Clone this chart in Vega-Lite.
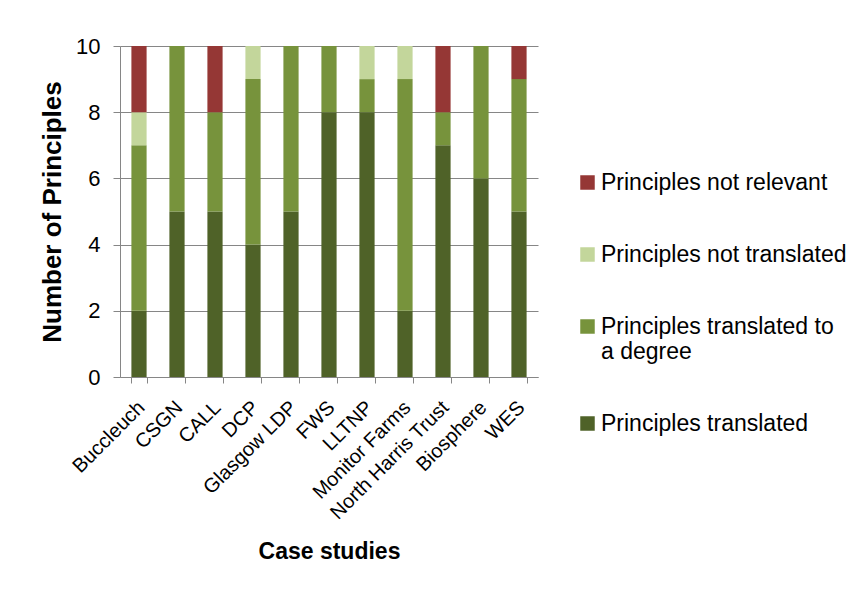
{
  "$schema": "https://vega.github.io/schema/vega-lite/v6.json",
  "width": 418,
  "height": 331,
  "autosize": {"type": "none"},
  "padding": {"left": 120, "top": 46, "right": 321, "bottom": 217},
  "background": "white",
  "config": {
    "font": "Liberation Sans",
    "view": {"stroke": null}
  },
  "data": {
    "values": [
      {"case": "Buccleuch", "category": "Principles translated", "o": 1, "value": 2},
      {"case": "Buccleuch", "category": "Principles translated to a degree", "o": 2, "value": 5},
      {"case": "Buccleuch", "category": "Principles not translated", "o": 3, "value": 1},
      {"case": "Buccleuch", "category": "Principles not relevant", "o": 4, "value": 2},
      {"case": "CSGN", "category": "Principles translated", "o": 1, "value": 5},
      {"case": "CSGN", "category": "Principles translated to a degree", "o": 2, "value": 5},
      {"case": "CALL", "category": "Principles translated", "o": 1, "value": 5},
      {"case": "CALL", "category": "Principles translated to a degree", "o": 2, "value": 3},
      {"case": "CALL", "category": "Principles not relevant", "o": 4, "value": 2},
      {"case": "DCP", "category": "Principles translated", "o": 1, "value": 4},
      {"case": "DCP", "category": "Principles translated to a degree", "o": 2, "value": 5},
      {"case": "DCP", "category": "Principles not translated", "o": 3, "value": 1},
      {"case": "Glasgow LDP", "category": "Principles translated", "o": 1, "value": 5},
      {"case": "Glasgow LDP", "category": "Principles translated to a degree", "o": 2, "value": 5},
      {"case": "FWS", "category": "Principles translated", "o": 1, "value": 8},
      {"case": "FWS", "category": "Principles translated to a degree", "o": 2, "value": 2},
      {"case": "LLTNP", "category": "Principles translated", "o": 1, "value": 8},
      {"case": "LLTNP", "category": "Principles translated to a degree", "o": 2, "value": 1},
      {"case": "LLTNP", "category": "Principles not translated", "o": 3, "value": 1},
      {"case": "Monitor Farms", "category": "Principles translated", "o": 1, "value": 2},
      {"case": "Monitor Farms", "category": "Principles translated to a degree", "o": 2, "value": 7},
      {"case": "Monitor Farms", "category": "Principles not translated", "o": 3, "value": 1},
      {"case": "North Harris Trust", "category": "Principles translated", "o": 1, "value": 7},
      {"case": "North Harris Trust", "category": "Principles translated to a degree", "o": 2, "value": 1},
      {"case": "North Harris Trust", "category": "Principles not relevant", "o": 4, "value": 2},
      {"case": "Biosphere", "category": "Principles translated", "o": 1, "value": 6},
      {"case": "Biosphere", "category": "Principles translated to a degree", "o": 2, "value": 4},
      {"case": "WES", "category": "Principles translated", "o": 1, "value": 5},
      {"case": "WES", "category": "Principles translated to a degree", "o": 2, "value": 4},
      {"case": "WES", "category": "Principles not relevant", "o": 4, "value": 1}
    ]
  },
  "mark": {"type": "bar"},
  "encoding": {
    "x": {
      "field": "case",
      "type": "nominal",
      "sort": null,
      "scale": {"paddingInner": 0.6, "paddingOuter": 0.3},
      "axis": {
        "title": "Case studies",
        "titleFontSize": 23,
        "titleFontWeight": "bold",
        "titleColor": "black",
        "titlePadding": 18,
        "labelAngle": -45,
        "labelFontSize": 20,
        "labelColor": "black",
        "labelPadding": 14,
        "labelOffset": -5,
        "domainColor": "#868686",
        "tickColor": "#868686",
        "tickBand": "extent",
        "tickSize": 6
      }
    },
    "y": {
      "field": "value",
      "type": "quantitative",
      "stack": "zero",
      "scale": {"domain": [0, 10], "nice": false},
      "axis": {
        "title": "Number of Principles",
        "titleFontSize": 26,
        "titleFontWeight": "bold",
        "titleColor": "black",
        "titlePadding": 10,
        "values": [0, 2, 4, 6, 8, 10],
        "labelFontSize": 22,
        "labelColor": "black",
        "labelPadding": 13,
        "domainColor": "#868686",
        "tickColor": "#868686",
        "tickSize": 7,
        "gridColor": "#868686",
        "grid": true
      }
    },
    "color": {
      "field": "category",
      "type": "nominal",
      "scale": {
        "domain": ["Principles not relevant", "Principles not translated", "Principles translated to a degree", "Principles translated"],
        "range": ["#953735", "#C3D69B", "#77933C", "#4F6228"]
      },
      "legend": {
        "title": null,
        "orient": "none",
        "legendX": 456,
        "legendY": 125,
        "symbolType": "square",
        "symbolSize": 210,
        "symbolStrokeWidth": 0,
        "labelFontSize": 23,
        "labelColor": "black",
        "labelOffset": 2,
        "labelLimit": 400,
        "rowPadding": 48,
        "labelExpr": "datum.label == 'Principles translated to a degree' ? ['Principles translated to', 'a degree'] : datum.label"
      }
    },
    "order": {"field": "o", "type": "quantitative"}
  }
}
